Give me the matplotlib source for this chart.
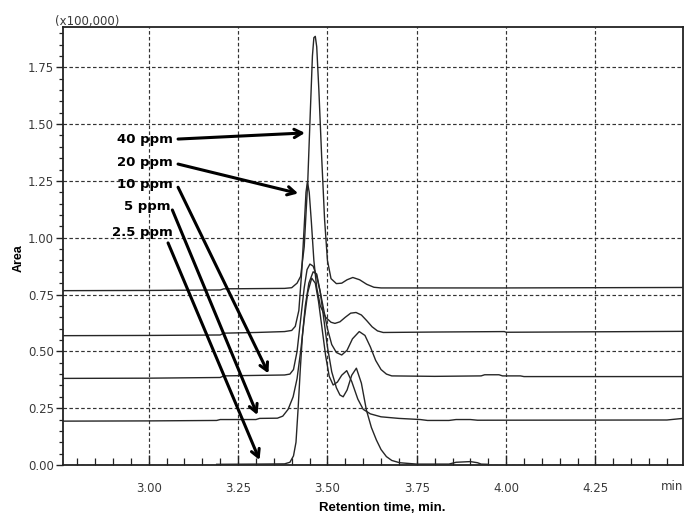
import matplotlib
matplotlib.use("Agg")
import matplotlib.pyplot as plt
from matplotlib.ticker import MultipleLocator, FixedLocator

# ---------------- data ----------------
# retention time (min) / area (x100,000)
t_40 = [2.76, 3.00, 3.20, 3.21, 3.38, 3.40, 3.415, 3.425, 3.435, 3.445, 3.452, 3.458, 3.462,
        3.466, 3.470, 3.476, 3.484, 3.492, 3.500, 3.510, 3.525, 3.540, 3.555, 3.571, 3.590,
        3.610, 3.630, 3.650, 3.80, 4.00, 4.495]
a_40 = [0.767, 0.768, 0.770, 0.775, 0.777, 0.780, 0.800, 0.830, 0.960, 1.250, 1.550, 1.800, 1.880,
        1.886, 1.840, 1.650, 1.350, 1.080, 0.900, 0.820, 0.798, 0.800, 0.815, 0.825, 0.815,
        0.795, 0.782, 0.779, 0.779, 0.779, 0.781]

t_20 = [2.76, 3.00, 3.20, 3.21, 3.30, 3.38, 3.40, 3.41, 3.42, 3.428, 3.435, 3.440, 3.444,
        3.449, 3.455, 3.462, 3.470, 3.480, 3.495, 3.510, 3.521, 3.535, 3.550, 3.565, 3.580,
        3.595, 3.610, 3.625, 3.640, 3.656, 3.80, 3.995, 4.00, 4.495]
a_20 = [0.569, 0.570, 0.572, 0.580, 0.583, 0.587, 0.592, 0.610, 0.680, 0.850, 1.050, 1.200, 1.246,
        1.200, 1.070, 0.900, 0.780, 0.700, 0.650, 0.628, 0.623, 0.630, 0.650, 0.668, 0.671,
        0.660, 0.635, 0.608, 0.590, 0.583, 0.585, 0.587, 0.584, 0.588]

t_10 = [2.76, 3.00, 3.20, 3.21, 3.38, 3.395, 3.405, 3.415, 3.425, 3.435, 3.443, 3.451, 3.460,
        3.470, 3.480, 3.490, 3.500, 3.512, 3.525, 3.540, 3.555, 3.570, 3.589, 3.605, 3.620,
        3.635, 3.650, 3.665, 3.680, 3.80, 3.93, 3.94, 3.98, 3.99, 4.04, 4.05, 4.495]
a_10 = [0.381, 0.382, 0.385, 0.392, 0.396, 0.400, 0.420, 0.500, 0.640, 0.780, 0.860, 0.884, 0.875,
        0.830, 0.760, 0.680, 0.600, 0.530, 0.495, 0.484, 0.505, 0.555, 0.587, 0.570, 0.520,
        0.460, 0.420, 0.400, 0.392, 0.390, 0.392, 0.397, 0.397, 0.392, 0.392, 0.389, 0.389]

t_5 = [2.76, 3.00, 3.19, 3.20, 3.30, 3.31, 3.36, 3.375, 3.390, 3.404, 3.415, 3.425, 3.435,
       3.445, 3.456, 3.466, 3.475, 3.485, 3.495, 3.505, 3.516, 3.528, 3.540, 3.554, 3.568,
       3.585, 3.600, 3.620, 3.650, 3.700, 3.76, 3.78, 3.84, 3.86, 3.90, 3.92, 4.45, 4.495]
a_5 = [0.193, 0.194, 0.196, 0.200, 0.200, 0.205, 0.206, 0.215, 0.245, 0.300, 0.380, 0.500, 0.640,
       0.760, 0.822, 0.800, 0.720, 0.600, 0.480, 0.390, 0.352, 0.365, 0.395, 0.415, 0.367,
       0.290, 0.245, 0.225, 0.212, 0.205, 0.200, 0.196, 0.196, 0.200, 0.200, 0.197, 0.198, 0.205]

t_25 = [3.190, 3.300, 3.380, 3.395, 3.405, 3.412, 3.418, 3.424, 3.430, 3.438, 3.448, 3.460,
        3.470, 3.480, 3.490, 3.500, 3.512, 3.525, 3.535, 3.544, 3.555, 3.568, 3.581, 3.595,
        3.609, 3.623, 3.637, 3.650, 3.665, 3.680, 3.702, 3.75, 3.84, 3.86, 3.90, 3.92, 3.93, 3.95]
a_25 = [0.003, 0.004, 0.005, 0.012, 0.040, 0.100, 0.250, 0.420, 0.570, 0.700, 0.800, 0.850,
        0.840, 0.760, 0.640, 0.520, 0.410, 0.340, 0.308, 0.300, 0.330, 0.395, 0.426, 0.360,
        0.242, 0.165, 0.110, 0.068, 0.037, 0.020, 0.010, 0.004, 0.004, 0.012, 0.015, 0.010, 0.004, 0.003]

labels = ["40 ppm", "20 ppm", "10 ppm", "5 ppm", "2.5 ppm"]
x_ticks = [3.00, 3.25, 3.50, 3.75, 4.00, 4.25]
x_tick_labels = ["3.00", "3.25", "3.50", "3.75", "4.00", "4.25"]
y_ticks = [0.00, 0.25, 0.50, 0.75, 1.00, 1.25, 1.50, 1.75]
y_tick_labels = ["0.00", "0.25", "0.50", "0.75", "1.00", "1.25", "1.50", "1.75"]

# ---------------- layout ----------------
# label text anchor (right edge, centre), arrow start, arrow tip in data coords
text_pos = [(3.068, 1.434), (3.068, 1.329), (3.068, 1.236), (3.062, 1.139), (3.068, 1.025)]
arrow_start = [(3.082, 1.434), (3.082, 1.324), (3.082, 1.222), (3.066, 1.122), (3.054, 0.977)]
arrow_tip = [(3.437, 1.461), (3.418, 1.195), (3.335, 0.403), (3.304, 0.220), (3.310, 0.022)]

fig = plt.figure(figsize=(6.85, 5.2), dpi=100)
ax = fig.add_axes([63 / 685, 55 / 520, 620 / 685, 438 / 520])

trace_color = "#262626"
for t, a in [(t_40, a_40), (t_20, a_20), (t_10, a_10), (t_5, a_5), (t_25, a_25)]:
    ax.plot(t, a, color=trace_color, lw=1.0, zorder=3, solid_joinstyle="round")

ax.set_xlim(2.76, 4.495)
ax.set_ylim(0.0, 1.927)

ax.xaxis.set_major_locator(FixedLocator(x_ticks))
ax.set_xticklabels(x_tick_labels)
ax.xaxis.set_minor_locator(MultipleLocator(0.05))
ax.yaxis.set_major_locator(FixedLocator(y_ticks))
ax.set_yticklabels(y_tick_labels)
ax.yaxis.set_minor_locator(MultipleLocator(0.05))

tick_col = "#3a3a3a"
ax.tick_params(axis="x", which="major", direction="in", length=7, width=1.0,
               pad=12, labelsize=8.5, labelcolor=tick_col, color="#222")
ax.tick_params(axis="x", which="minor", direction="in", length=5, width=0.9, color="#222")
ax.tick_params(axis="y", which="major", direction="out", length=5, width=1.0,
               pad=1.5, labelsize=8.5, labelcolor=tick_col, color="#222")
ax.tick_params(axis="y", which="minor", direction="out", length=3, width=0.9, color="#222")

ax.grid(True, which="major", color="#333333", lw=0.85, linestyle=(0, (3, 2)), zorder=1)

for s in ax.spines.values():
    s.set_color("#222222")
    s.set_linewidth(1.3)

# labels and arrows
for lab, tp, st, tip in zip(labels, text_pos, arrow_start, arrow_tip):
    ax.text(tp[0], tp[1], lab, ha="right", va="center", fontsize=9.5,
            fontweight="bold", family="DejaVu Sans", color="black", zorder=5)
    ax.annotate("", xy=tip, xytext=st,
                arrowprops=dict(arrowstyle="->,head_length=0.55,head_width=0.3",
                                lw=2.2, color="black", shrinkA=0, shrinkB=0),
                zorder=5)

fig.text(55 / 685, 1 - 22 / 520, "(x100,000)", fontsize=8.5, color=tick_col,
         ha="left", va="center")
fig.text(683 / 685, 1 - 487 / 520, "min", fontsize=8.5, color=tick_col,
         ha="right", va="center")
fig.text(19 / 685, 1 - 258 / 520, "Area", fontsize=9, fontweight="bold",
         rotation=90, ha="center", va="center", family="Liberation Sans")
fig.text(382 / 685, 1 - 508 / 520, "Retention time, min.", fontsize=9.5,
         fontweight="bold", ha="center", va="center", family="Liberation Sans")

fig.savefig("out.png", dpi=100)
